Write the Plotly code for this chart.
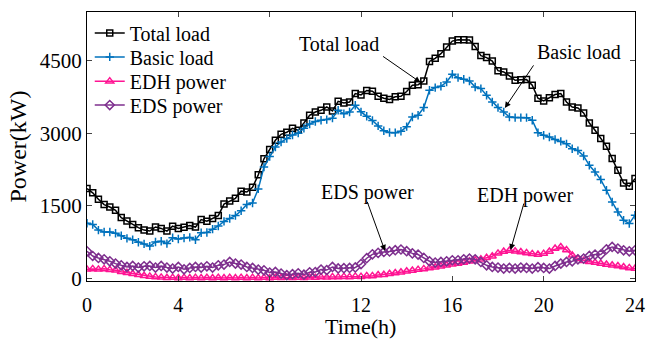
import plotly.graph_objects as go

# time axis (h), 15-min resolution
hours = [i * 0.25 for i in range(97)]

total_load = [
    1857, 1770, 1636, 1527, 1477, 1409, 1258, 1190, 1117, 1050,
    1000, 980, 1064, 1035, 980, 1082, 1035, 1058, 1093, 1062,
    1217, 1183, 1240, 1300, 1537, 1598, 1656, 1804, 1785, 1884,
    2140, 2470, 2661, 2853, 2977, 3018, 3100, 3059, 3210, 3369,
    3437, 3472, 3540, 3458, 3658, 3623, 3644, 3816, 3790, 3880,
    3867, 3764, 3720, 3696, 3750, 3760, 3860, 3988, 4000, 4076,
    4480, 4545, 4640, 4780, 4900, 4925, 4925, 4920, 4790, 4600,
    4560, 4489, 4290, 4262, 4180, 4091, 4100, 4105, 3988, 3720,
    3664, 3733, 3796, 3816, 3644, 3540, 3520, 3417, 3210, 3059,
    2888, 2729, 2475, 2234, 1972, 1904, 2063]

basic_load = [
    1140, 1117, 1000, 960, 961, 935, 883, 830, 800, 750,
    715, 670, 755, 770, 722, 842, 818, 835, 850, 800,
    945, 950, 1020, 1085, 1180, 1240, 1300, 1400, 1530, 1560,
    1850, 2300, 2520, 2715, 2818, 2888, 2960, 3000, 3100, 3190,
    3240, 3266, 3280, 3310, 3472, 3400, 3437, 3575, 3440, 3350,
    3260, 3150, 3050, 3015, 3011, 3039, 3135, 3334, 3369, 3528,
    3885, 3940, 3967, 4056, 4215, 4146, 4112, 4076, 3953, 3920,
    3782, 3644, 3528, 3437, 3334, 3321, 3321, 3320, 3266, 3011,
    2956, 2922, 2870, 2830, 2780, 2680, 2640, 2530, 2337, 2200,
    2042, 1822, 1580, 1374, 1203, 1135, 1306]

edh_power = [
    190, 200, 190, 200, 180, 170, 140, 120, 100, 80,
    60, 45, 35, 25, 15, 20, 10, 20, 10, 20,
    10, 20, 10, 20, 10, 20, 10, 20, 10, 20,
    10, 20, 10, 20, 15, 25, 15, 20, 15, 25,
    20, 30, 25, 35, 30, 40, 35, 45, 40, 55,
    55, 75, 80, 100, 115, 130, 150, 165, 185, 200,
    220, 235, 255, 275, 295, 310, 330, 360, 380, 400,
    430, 460, 520, 560, 580, 565, 550, 530, 510, 495,
    515, 560, 620, 650, 590, 480, 410, 370, 345, 330,
    310, 290, 275, 260, 240, 220, 206]

eds_power = [
    563, 466, 425, 398, 357, 309, 274, 240, 260, 227,
    254, 260, 227, 260, 227, 206, 240, 192, 219, 240,
    227, 254, 227, 274, 289, 343, 309, 289, 240, 219,
    185, 171, 124, 137, 103, 69, 90, 110, 80, 130,
    135, 185, 175, 240, 210, 215, 220, 230, 300, 420,
    500, 530, 550, 560, 585, 600, 565, 520, 495, 426,
    357, 330, 343, 357, 378, 378, 398, 412, 398, 343,
    274, 240, 227, 206, 219, 206, 227, 219, 206, 234,
    219, 206, 260, 309, 343, 357, 398, 412, 467, 495,
    495, 605, 653, 619, 584, 563, 584]

x_ticks = [0, 4, 8, 12, 16, 20, 24]
y_ticks = [0, 1500, 3000, 4500]

FONT = "Times New Roman, Liberation Serif, serif"

series = [
    ("Total load", total_load, "black", "square-open", 6, "legend"),
    ("Basic load", basic_load, "#0072BD", "cross-thin", 6, "legend2"),
    ("EDH power", edh_power, "#FF1493", "triangle-up-open", 7, "legend3"),
    ("EDS power", eds_power, "#7E2F8E", "diamond-open", 7, "legend4"),
]

fig = go.Figure()
for name, vals, col, sym, size, leg in series:
    fig.add_trace(go.Scatter(x=hours, y=vals, name=name, mode="lines+markers",
                             line=dict(color=col, width=1.5),
                             marker=dict(symbol=sym, size=size, color=col,
                                         line=dict(width=1.5, color=col)),
                             legend=leg))

def label(text, x, y):
    fig.add_annotation(x=x, y=y, xref="x", yref="y", text=text, showarrow=False,
                       font=dict(family=FONT, size=20, color="black"))

def arrow(x_tail, y_tail, x_tip, y_tip):
    fig.add_annotation(x=x_tip, y=y_tip, ax=x_tail, ay=y_tail, xref="x", yref="y",
                       axref="x", ayref="y", text="", showarrow=True,
                       arrowhead=2, arrowsize=1.2, arrowwidth=1, arrowcolor="black")

label("Total load", 11.05, 4830)
arrow(12.9, 4605, 14.6, 4050)
label("Basic load", 21.55, 4680)
arrow(19.6, 4430, 18.3, 3520)
label("EDS power", 12.3, 1770)
arrow(12.25, 1615, 13.05, 570)
label("EDH power", 19.2, 1720)
arrow(19.15, 1580, 18.55, 590)

# x-axis title as a paper-anchored text
fig.add_annotation(x=0.499, y=-0.2175, xref="paper", yref="paper", text="Time(h)",
                   showarrow=False, xanchor="center", yanchor="bottom", borderpad=0,
                   font=dict(family=FONT, size=22, color="black"))

def leg(y):
    return dict(x=0.005, y=y, xanchor="left", yanchor="middle",
                bgcolor="rgba(0,0,0,0)", borderwidth=0,
                font=dict(family=FONT, size=20, color="black"), itemwidth=30)

fig.update_layout(
    width=649, height=341,
    margin=dict(l=87, r=14, t=12, b=60),
    paper_bgcolor="white", plot_bgcolor="white",
    font=dict(family=FONT, size=20, color="black"),
    showlegend=True,
    legend=leg(0.922), legend2=leg(0.833), legend3=leg(0.743), legend4=leg(0.654),
)
fig.update_xaxes(range=[0, 24], tickvals=x_ticks, ticks="inside", ticklen=5,
                 showline=True, linecolor="black", linewidth=1, mirror="ticks",
                 showgrid=False, zeroline=False, ticklabelstandoff=6, automargin=False,
                 tickfont=dict(family=FONT, size=20, color="black"))
fig.update_yaxes(range=[-50, 5500], tickvals=y_ticks, ticks="inside", ticklen=5,
                 showline=True, linecolor="black", linewidth=1, mirror="ticks",
                 showgrid=False, zeroline=False, automargin=False,
                 tickfont=dict(family=FONT, size=21, color="black"),
                 title=dict(text="Power(kW)", font=dict(family=FONT, size=24, color="black"), standoff=6))

fig.write_html("out.html")
